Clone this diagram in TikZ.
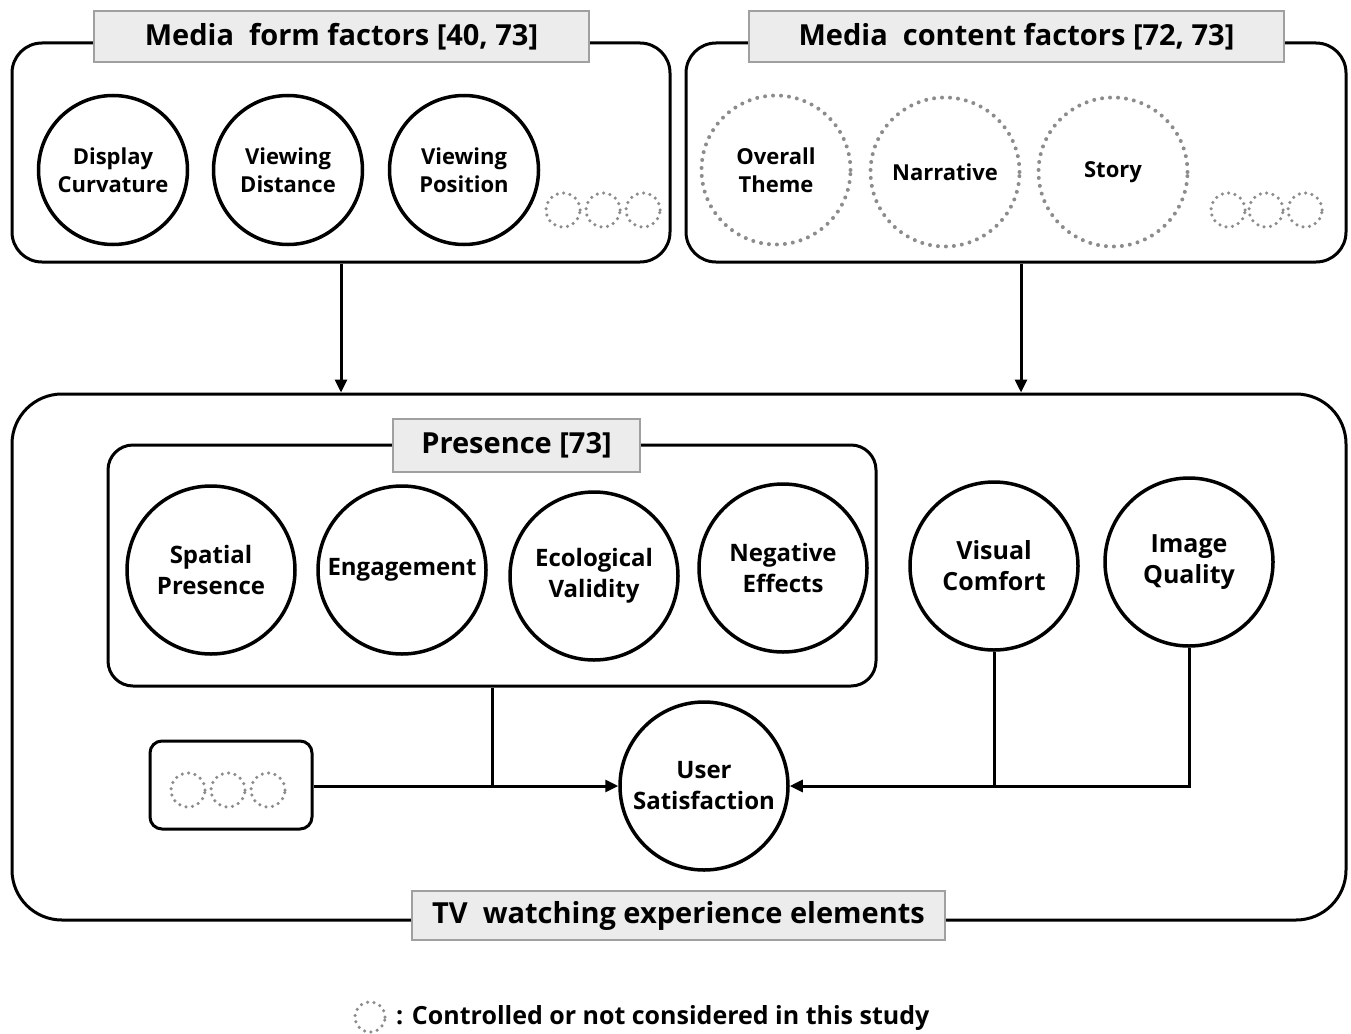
\documentclass[tikz,border=0pt]{standalone}
\usepackage{fontspec}
\setmainfont{Open Sans}
\usetikzlibrary{arrows.meta}
\definecolor{dotgray}{RGB}{140,140,140}
\definecolor{titlefill}{RGB}{236,236,236}
\definecolor{titleline}{RGB}{160,160,160}
\tikzset{
  frame/.style={draw, line width=3pt, inner sep=0pt},
  titlebox/.style={draw=titleline, fill=titlefill, line width=1.5pt, inner sep=0pt,
    font=\fontsize{29}{34}\selectfont\bfseries},
  solidc/.style={circle, draw, line width=3.5pt, fill=white, align=center, inner sep=0pt,
    font=\fontsize{22}{28}\selectfont\bfseries},
  bigc/.style={solidc, font=\fontsize{24}{31}\selectfont\bfseries},
  dotc/.style={circle, draw=dotgray, line width=4pt, dash pattern=on 0pt off 8pt,
    line cap=round, align=center, inner sep=0pt, font=\fontsize{22}{28}\selectfont\bfseries},
  smalldot/.style={circle, draw=dotgray, line width=3.5pt, dash pattern=on 0pt off 6.5pt,
    line cap=round, inner sep=0pt, minimum size=34pt},
  conn/.style={line width=3pt},
  arr/.style={conn, -{Triangle[length=13pt,width=12pt]}},
}
\begin{document}
\begin{tikzpicture}[x=1pt, y=-1pt]
\useasboundingbox (0,0) rectangle (1351,1033);
% outer frames
\node[frame, rounded corners=30pt, minimum width=658pt, minimum height=219pt] (formbox) at (341,152.5) {};
\node[frame, rounded corners=30pt, minimum width=660pt, minimum height=219pt] (contentbox) at (1016,152.5) {};
\node[frame, rounded corners=50pt, minimum width=1334pt, minimum height=526pt] (tvbox) at (679,657) {};
\node[frame, rounded corners=25pt, minimum width=768pt, minimum height=241pt] (presbox) at (492,565.5) {};
\node[frame, rounded corners=12pt, minimum width=162pt, minimum height=88pt] (otherbox) at (231,785) {};
% titles
\node[titlebox, minimum width=495pt, minimum height=51pt] (formtitle) at (341.5,36.5) {Media\ \ form factors [40, 73]};
\node[titlebox, minimum width=535pt, minimum height=51pt] (contenttitle) at (1016.5,36.5) {Media\ \ content factors [72, 73]};
\node[titlebox, minimum width=247pt, minimum height=53pt] (prestitle) at (516.5,445.5) {Presence [73]};
\node[titlebox, minimum width=533pt, minimum height=49pt] (tvtitle) at (678.5,915.5) {TV\ \ watching experience elements};
% form factors
\node[solidc, minimum size=149pt] (dc) at (113,170) {Display\\Curvature};
\node[solidc, minimum size=149pt] (vd) at (288,170) {Viewing\\Distance};
\node[solidc, minimum size=149pt] (vp) at (464,170) {Viewing\\Position};
\node[smalldot] (fd1) at (563,210) {};
\node[smalldot] (fd2) at (603,210) {};
\node[smalldot] (fd3) at (643,210) {};
% content factors
\node[dotc, minimum size=149pt] (ot) at (776,170) {Overall\\Theme};
\node[dotc, minimum size=149pt] (na) at (945,172) {Narrative};
\node[dotc, minimum size=149pt] (st) at (1113,172) {Story};
\node[smalldot] (cd1) at (1228,210) {};
\node[smalldot] (cd2) at (1266,210) {};
\node[smalldot] (cd3) at (1305,210) {};
% presence
\node[bigc, minimum size=168pt] (sp) at (211,570) {Spatial\\Presence};
\node[bigc, minimum size=168pt] (en) at (402,570) {Engagement};
\node[bigc, minimum size=168pt] (ev) at (594,576) {Ecological\\Validity};
\node[bigc, minimum size=168pt] (ne) at (783,568) {Negative\\Effects};
% others
\node[bigc, minimum size=168pt, font=\fontsize{25}{31}\selectfont\bfseries] (vc) at (994,566) {Visual\\Comfort};
\node[bigc, minimum size=168pt, font=\fontsize{25}{31}\selectfont\bfseries] (iq) at (1189,562) {Image\\Quality};
\node[bigc, minimum size=168pt] (us) at (704,786) {User\\Satisfaction};
\node[smalldot] (od1) at (188,790) {};
\node[smalldot] (od2) at (228,790) {};
\node[smalldot] (od3) at (268,790) {};
% connectors
\draw[arr] (formbox.south) -- (formbox.south |- tvbox.north);
\draw[arr] ([xshift=5pt]contentbox.south) -- ([xshift=5pt]contentbox.south |- tvbox.north);
\draw[conn] (presbox.south) -- (presbox.south |- us.west);
\draw[arr] (otherbox.east |- us.west) -- (us.west);
\draw[conn] (vc.south) -- (vc.south |- us.east);
\draw[arr] (iq.south) |- (us.east);
% legend
\node[smalldot, minimum size=30pt] (legc) at (370,1017) {};
\node[anchor=west, inner sep=0pt, font=\fontsize{25}{30}\selectfont\bfseries] (legt) at (396,1018) {: Controlled or not considered in this study};
\end{tikzpicture}
\end{document}
